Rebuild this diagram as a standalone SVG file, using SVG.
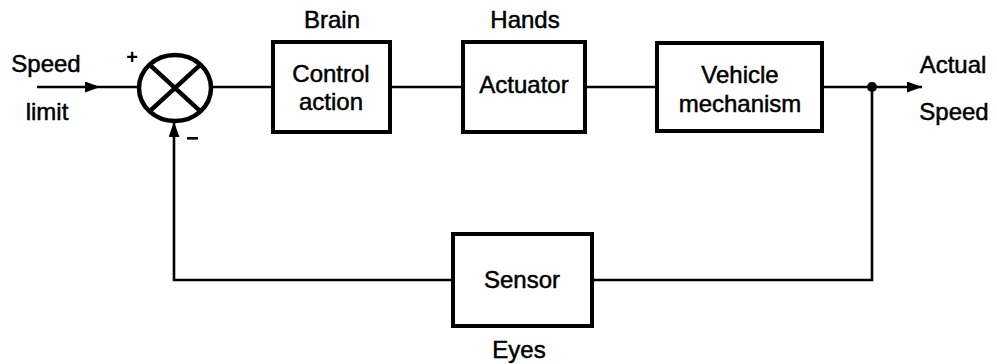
<svg xmlns="http://www.w3.org/2000/svg" width="997" height="364" viewBox="0 0 997 364">
  <style>
    .box { fill: #fff; stroke: #000; stroke-width: 4; }
    .wire { fill: none; stroke: #000; stroke-width: 2.6; }
    .lbl { font-family: "Liberation Sans", Arial, sans-serif; font-size: 24px; fill: #000; stroke: #000; stroke-width: 0.5; text-anchor: middle; }
    .sign { font-family: "Liberation Sans", Arial, sans-serif; font-size: 20px; font-weight: bold; fill: #000; text-anchor: middle; }
  </style>
  <defs>
    <marker id="arrow" viewBox="0 0 15 11" refX="15" refY="5.5" markerWidth="15" markerHeight="11" markerUnits="userSpaceOnUse" orient="auto">
      <path d="M0,0 L15,5.5 L0,11 Z" fill="#000"/>
    </marker>
  </defs>
  <rect width="997" height="364" fill="#fff"/>

  <!-- connectors -->
  <g id="connectors">
    <!-- reference input with mid-line arrowhead -->
    <path class="wire" d="M37,87 L100,87" marker-end="url(#arrow)"/>
    <path class="wire" d="M100,87 L139,87"/>
    <!-- forward path -->
    <path class="wire" d="M211,87 L273,87"/>
    <path class="wire" d="M390,87 L463,87"/>
    <path class="wire" d="M585,87 L657,87"/>
    <path class="wire" d="M822,87 L922,87" marker-end="url(#arrow)"/>
    <!-- take-off point -->
    <circle cx="872" cy="87" r="5" fill="#000"/>
    <!-- feedback path -->
    <path class="wire" d="M872,87 L872,280 L592,280"/>
    <path class="wire" d="M453,280 L174,280 L174,122" marker-end="url(#arrow)"/>
  </g>

  <!-- summing junction -->
  <g id="sum">
    <ellipse cx="175" cy="88" rx="36" ry="33" fill="#fff" stroke="#000" stroke-width="4.5"/>
    <path d="M149.5,64.7 L200.5,111.3 M200.5,64.7 L149.5,111.3" stroke="#000" stroke-width="4.5"/>
    <text class="sign" x="132" y="64">+</text>
    <rect x="187" y="137" width="11" height="2.6" fill="#000"/>
  </g>

  <g id="input-label">
    <text class="lbl" x="46" y="72">Speed</text>
    <text class="lbl" x="47" y="120">limit</text>
  </g>

  <g id="control">
    <rect class="box" x="273" y="42" width="117" height="90"/>
    <text class="lbl" x="331" y="82">Control</text>
    <text class="lbl" x="331" y="110">action</text>
    <text class="lbl" x="332" y="28">Brain</text>
  </g>

  <g id="actuator">
    <rect class="box" x="463" y="42" width="122" height="90"/>
    <text class="lbl" x="524" y="93">Actuator</text>
    <text class="lbl" x="525" y="28">Hands</text>
  </g>

  <g id="vehicle">
    <rect class="box" x="657" y="43" width="165" height="88"/>
    <text class="lbl" x="740" y="83">Vehicle</text>
    <text class="lbl" x="740" y="112">mechanism</text>
  </g>

  <g id="output-label">
    <text class="lbl" x="953" y="73">Actual</text>
    <text class="lbl" x="954" y="120">Speed</text>
  </g>

  <g id="sensor">
    <rect class="box" x="453" y="234" width="139" height="92"/>
    <text class="lbl" x="522" y="288">Sensor</text>
    <text class="lbl" x="519" y="358">Eyes</text>
  </g>
</svg>
